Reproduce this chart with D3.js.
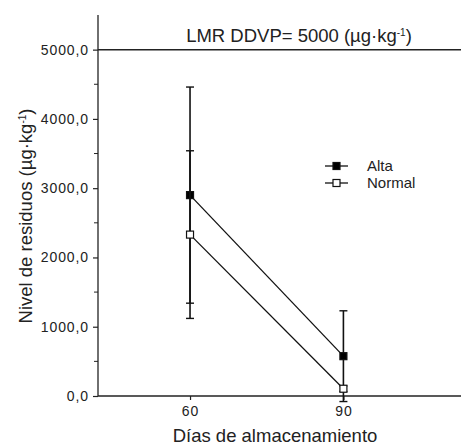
<!DOCTYPE html>
<html>
<head>
<meta charset="utf-8">
<script src="https://cdn.jsdelivr.net/npm/d3@7"></script>
<style>
body { margin: 0; background: #fff; }
text { font-family: "Liberation Sans", Arial, sans-serif; fill: #222; }
</style>
</head>
<body>
<svg id="chart"></svg>
<script>
var days = [60, 90];
var series = ["Alta", "Normal"];
var alta = [2900, 575];
var altaErr = [1560, 655];
var normal = [2330, 105];
var normalErr = [1210, 40];
var yTicks = [0, 1000, 2000, 3000, 4000, 5000];
var yMinor = [500, 1500, 2500, 3500, 4500];
var lmr = 5000;

var width = 461;
var height = 445;

var svg = d3.select("svg#chart")
    .attr("width", width)
    .attr("height", height);

var x = d3.scaleLinear().domain([42, 113]).range([98, 461]);
var y = d3.scaleLinear().domain([0, 5500]).range([396, 15]);

var fmt = d3.formatLocale({decimal: ",", thousands: "", grouping: [3], currency: ["", ""]}).format(".1f");

// y axis
var yAxis = svg.append("g")
    .attr("transform", "translate(98,0)")
    .call(d3.axisLeft(y).tickValues(yTicks).tickFormat(fmt).tickSize(5).tickPadding(4));
yAxis.select(".domain").attr("d", "M0," + y(5500) + "V" + y(0)).attr("stroke", "#222").attr("stroke-width", 1.3);
yAxis.selectAll(".tick line").attr("stroke", "#222").attr("stroke-width", 1.2);
yAxis.selectAll(".tick text").style("font-size", "14px").style("letter-spacing", "0.9px").attr("fill", "#333");
yAxis.selectAll(".minor").data(yMinor).enter().append("line")
    .attr("class", "minor")
    .attr("x1", -4).attr("x2", 0)
    .attr("y1", function(d) { return y(d); })
    .attr("y2", function(d) { return y(d); })
    .attr("stroke", "#222");

// x axis
var xAxis = svg.append("g")
    .attr("transform", "translate(0,396)")
    .call(d3.axisBottom(x).tickValues(days).tickFormat(d3.format("d")).tickSize(4).tickPadding(6));
xAxis.select(".domain").attr("d", "M98,0H461").attr("stroke", "#222").attr("stroke-width", 1.3);
xAxis.selectAll(".tick line").attr("stroke", "#222").attr("stroke-width", 1.2);
xAxis.selectAll(".tick text").style("font-size", "14px").style("letter-spacing", "0.9px").attr("fill", "#333");

// LMR line
svg.append("line")
    .attr("x1", 98).attr("x2", 461)
    .attr("y1", y(lmr)).attr("y2", y(lmr))
    .attr("stroke", "#222").attr("stroke-width", 1.5);
var lt = svg.append("text")
    .attr("x", 299).attr("y", 42)
    .attr("text-anchor", "middle")
    .style("font-size", "18.5px");
lt.append("tspan").text("LMR DDVP= 5000 (µg·kg");
lt.append("tspan").attr("dy", -6).style("font-size", "10px").text("-1");
lt.append("tspan").attr("dy", 6).text(")");

// axis titles
svg.append("text")
    .attr("x", 275).attr("y", 442)
    .attr("text-anchor", "middle")
    .style("font-size", "18.5px")
    .text("Días de almacenamiento");
var yt = svg.append("text")
    .attr("transform", "translate(32,216) rotate(-90)")
    .attr("text-anchor", "middle")
    .style("font-size", "18.5px");
yt.append("tspan").text("Nivel de residuos (µg·kg");
yt.append("tspan").attr("dy", -6).style("font-size", "10px").text("-1");
yt.append("tspan").attr("dy", 6).text(")");

var data = [
    {name: series[0], vals: alta, err: altaErr, fill: "#000"},
    {name: series[1], vals: normal, err: normalErr, fill: "#fff"}
];

var line = d3.line()
    .x(function(d) { return x(d.day); })
    .y(function(d) { return y(d.v); });

data.forEach(function(s) {
    var pts = days.map(function(d, i) { return {day: d, v: s.vals[i], e: s.err[i]}; });
    // error bars
    pts.forEach(function(p) {
        var cx = x(p.day);
        svg.append("line")
            .attr("x1", cx).attr("x2", cx)
            .attr("y1", y(p.v + p.e)).attr("y2", y(p.v - p.e))
            .attr("stroke", "#111").attr("stroke-width", 1.6);
        [p.v + p.e, p.v - p.e].forEach(function(v) {
            svg.append("line")
                .attr("x1", cx - 4).attr("x2", cx + 4)
                .attr("y1", y(v)).attr("y2", y(v))
                .attr("stroke", "#111").attr("stroke-width", 1.4);
        });
    });
    svg.append("path")
        .datum(pts)
        .attr("d", line)
        .attr("fill", "none")
        .attr("stroke", "#111")
        .attr("stroke-width", 1.3);
    svg.selectAll(null).data(pts).enter().append("rect")
        .attr("x", function(d) { return x(d.day) - 3.5; })
        .attr("y", function(d) { return y(d.v) - 3.5; })
        .attr("width", 7).attr("height", 7)
        .attr("fill", s.fill)
        .attr("stroke", "#111").attr("stroke-width", 1.2);
});

// legend
var legend = svg.append("g");
data.forEach(function(s, i) {
    var ly = 166 + i * 17;
    legend.append("line")
        .attr("x1", 325).attr("x2", 348)
        .attr("y1", ly).attr("y2", ly)
        .attr("stroke", "#111").attr("stroke-width", 1.3);
    legend.append("rect")
        .attr("x", 333).attr("y", ly - 3.5)
        .attr("width", 7).attr("height", 7)
        .attr("fill", s.fill)
        .attr("stroke", "#111").attr("stroke-width", 1.2);
    legend.append("text")
        .attr("x", 367).attr("y", ly + 5)
        .style("font-size", "15px")
        .text(s.name);
});
</script>
</body>
</html>
